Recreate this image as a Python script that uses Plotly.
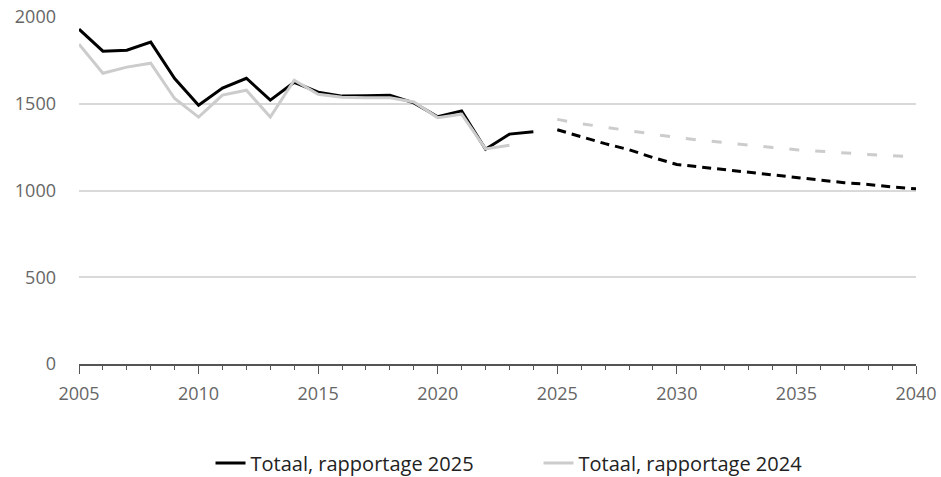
import plotly.graph_objects as go

# historical years
years_hist = list(range(2005, 2025))
totaal_2025 = [1930, 1803, 1809, 1855, 1645, 1492, 1590, 1647, 1521, 1624,
               1567, 1544, 1546, 1549, 1505, 1425, 1459, 1238, 1325, 1338]
years_hist_2024 = list(range(2005, 2024))
totaal_2024 = [1843, 1676, 1711, 1734, 1530, 1423, 1550, 1578, 1423, 1636,
               1555, 1538, 1535, 1535, 1510, 1420, 1440, 1240, 1261]

# projections
years_proj = list(range(2025, 2041))
proj_2025 = [1350, 1310, 1270, 1235, 1190, 1150, 1135, 1120, 1105, 1090,
             1075, 1060, 1045, 1035, 1020, 1010]
proj_2024 = [1410, 1385, 1365, 1345, 1325, 1305, 1290, 1275, 1260, 1248,
             1235, 1225, 1215, 1208, 1200, 1195]

BLACK = '#000000'
GREY = '#cccccc'
FONT = 'Open Sans, sans-serif'

fig = go.Figure()
fig.add_trace(go.Scatter(x=years_hist, y=totaal_2025, mode='lines',
                         name='Totaal, rapportage 2025', legendrank=1,
                         line=dict(color=BLACK, width=3)))
fig.add_trace(go.Scatter(x=years_proj, y=proj_2025, mode='lines', showlegend=False,
                         line=dict(color=BLACK, width=3, dash='9px,6px')))
fig.add_trace(go.Scatter(x=years_hist_2024, y=totaal_2024, mode='lines',
                         name='Totaal, rapportage 2024', legendrank=2,
                         line=dict(color=GREY, width=3)))
fig.add_trace(go.Scatter(x=years_proj, y=proj_2024, mode='lines', showlegend=False,
                         line=dict(color=GREY, width=3, dash='10px,16px')))

fig.update_layout(
    width=941,
    height=477,
    margin=dict(l=79, r=25, t=17, b=113, autoexpand=False),
    plot_bgcolor='white',
    paper_bgcolor='white',
    font=dict(family=FONT, size=19, color='#666666'),
    legend=dict(orientation='h', x=0.549, xanchor='center', y=-0.285, yanchor='middle',
                font=dict(size=20, color='#222222'), entrywidth=283),
    xaxis=dict(range=[2005, 2040], dtick=5, tick0=2005, showgrid=False,
               showline=True, linecolor='#555555', linewidth=2,
               ticks='outside', ticklen=8, tickcolor='#555555', tickwidth=1,
               minor=dict(dtick=1, ticks='outside', ticklen=4, tickcolor='#555555'),
               tickfont=dict(size=18), ticklabelstandoff=4, ticklabeloverflow='allow',
               zeroline=False, automargin=False, fixedrange=True),
    yaxis=dict(range=[0, 2000], dtick=500, showgrid=True, gridcolor='#d9d9d9',
               gridwidth=2, zeroline=False, showline=False, ticks='',
               tickfont=dict(size=18), ticklabelstandoff=22, ticklabeloverflow='allow',
               automargin=False, fixedrange=True),
)

# drop the default page margin so the figure sits at the window's top-left corner
fig.write_html("out.html", config={'displayModeBar': False},
               post_script="document.body.style.margin='0';")
